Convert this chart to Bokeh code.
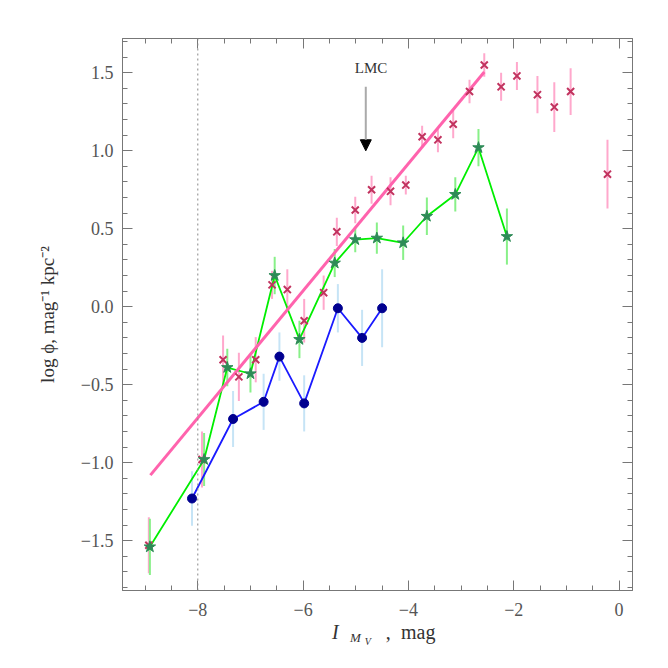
from bokeh.plotting import figure
from bokeh.layouts import column
from bokeh.models import (LinearAxis, SingleIntervalTicker, CustomJSTickFormatter,
                          Span, Label, Arrow, NormalHead, Range1d)
from bokeh.core.properties import value
from bokeh.embed import file_html
from bokeh.resources import INLINE

# ---------------- data ----------------
pink_x = [-8.93, -7.92, -7.52, -7.22, -6.90, -6.59, -6.30, -5.98, -5.61, -5.36, -5.01, -4.70,
          -4.34, -4.05, -3.74, -3.44, -3.15, -2.84, -2.56, -2.24, -1.94, -1.55, -1.23, -0.92, -0.22]
pink_y = [-1.53, -0.98, -0.34, -0.45, -0.34, 0.14, 0.11, -0.09, 0.09, 0.48, 0.62, 0.75,
          0.74, 0.78, 1.09, 1.07, 1.17, 1.38, 1.55, 1.41, 1.48, 1.36, 1.28, 1.38, 0.85]
pink_err = [0.18, 0.18, 0.155, 0.155, 0.145, 0.09, 0.13, 0.14, 0.11, 0.09, 0.085, 0.09,
            0.09, 0.06, 0.07, 0.08, 0.09, 0.075, 0.075, 0.09, 0.09, 0.12, 0.16, 0.15, 0.22]

green_x = [-8.91, -7.88, -7.44, -7.00, -6.54, -6.07, -5.40, -5.01, -4.60, -4.10, -3.65, -3.11, -2.67, -2.13]
green_y = [-1.54, -0.98, -0.39, -0.43, 0.20, -0.21, 0.28, 0.43, 0.44, 0.41, 0.58, 0.72, 1.02, 0.45]
green_err = [0.18, 0.17, 0.12, 0.12, 0.12, 0.12, 0.09, 0.08, 0.10, 0.11, 0.12, 0.11, 0.12, 0.18]

blue_x = [-8.11, -7.33, -6.75, -6.45, -5.98, -5.34, -4.88, -4.50]
blue_y = [-1.23, -0.72, -0.61, -0.32, -0.62, -0.01, -0.20, -0.01]
blue_err = [0.175, 0.18, 0.18, 0.155, 0.18, 0.155, 0.18, 0.25]

fit_x = [-8.90, -2.56]
fit_y = [-1.08, 1.505]

limit_mag = -8.0
lmc_mag = -4.81
lmc_arrow_top = 1.41
lmc_arrow_tip = 1.00

# x-axis title pieces: I_{M_V} , mag
xlab_text = ["I", "M", "V", ",", "mag"]
xlab_pos = [-5.45, -5.11, -4.83, -4.43, -4.14]

SERIF = "Liberation Serif"

x_range = Range1d(-9.43, 0.255)
p = figure(frame_width=510, frame_height=552, output_backend="svg", toolbar_location=None,
           x_range=x_range, y_range=Range1d(-1.82, 1.72),
           min_border_left=122, min_border_top=38, min_border_right=20, min_border_bottom=28,
           x_axis_location=None, y_axis_location=None)
p.background_fill_color = "white"
p.border_fill_color = "white"
p.outline_line_color = "#777777"
p.xgrid.visible = False
p.ygrid.visible = False

fmt_x = CustomJSTickFormatter(code="""
const s = Math.abs(tick).toFixed(0);
return (tick < -1e-9 ? "\u2212" : "") + s;""")
fmt_y = CustomJSTickFormatter(code="""
const s = Math.abs(tick).toFixed(1);
return (tick < -1e-9 ? "\u2212" : "") + s;""")
fmt_none = CustomJSTickFormatter(code="return '';")


def style_axis(ax):
    ax.axis_line_color = "#777777"
    ax.major_tick_line_color = "#777777"
    ax.minor_tick_line_color = "#777777"
    ax.major_tick_in = 10
    ax.major_tick_out = 0
    ax.minor_tick_in = 5
    ax.minor_tick_out = 0
    ax.major_label_text_font = SERIF
    ax.major_label_text_color = "#555555"
    ax.major_label_text_font_size = "18px"
    ax.axis_label_text_font = SERIF
    ax.axis_label_text_font_style = "normal"
    ax.axis_label_text_color = "#333333"
    ax.axis_label_text_font_size = "19px"


xb = LinearAxis(ticker=SingleIntervalTicker(interval=2, num_minor_ticks=4), formatter=fmt_x)
style_axis(xb)
xb.major_label_standoff = 12
p.add_layout(xb, "below")
xt = LinearAxis(ticker=SingleIntervalTicker(interval=2, num_minor_ticks=4), formatter=fmt_none)
style_axis(xt)
p.add_layout(xt, "above")

yl = LinearAxis(ticker=SingleIntervalTicker(interval=0.5, num_minor_ticks=5), formatter=fmt_y,
                axis_label="log ϕ, mag⁻¹ kpc⁻²")
style_axis(yl)
yl.major_label_standoff = 9
yl.axis_label_standoff = 20
p.add_layout(yl, "left")
yr = LinearAxis(ticker=SingleIntervalTicker(interval=0.5, num_minor_ticks=5), formatter=fmt_none)
style_axis(yr)
p.add_layout(yr, "right")

# dotted limit line
p.add_layout(Span(location=limit_mag, dimension="height", line_color="#888888",
                  line_dash="2 3", line_width=1))

# error bars
p.segment(x0=pink_x, y0=[y - e for y, e in zip(pink_y, pink_err)],
          x1=pink_x, y1=[y + e for y, e in zip(pink_y, pink_err)],
          line_color="#ffa8cc", line_width=2)
p.segment(x0=green_x, y0=[y - e for y, e in zip(green_y, green_err)],
          x1=green_x, y1=[y + e for y, e in zip(green_y, green_err)],
          line_color="#88f088", line_width=2)
p.segment(x0=blue_x, y0=[y - e for y, e in zip(blue_y, blue_err)],
          x1=blue_x, y1=[y + e for y, e in zip(blue_y, blue_err)],
          line_color="#c6e4f6", line_width=2)

# lines
p.line(green_x, green_y, line_color="#00ee00", line_width=1.8)
p.line(blue_x, blue_y, line_color="#1a1aff", line_width=1.8)
p.line(fit_x, fit_y, line_color="#ff63ad", line_width=3)

# markers
p.scatter(pink_x, pink_y, marker="x", size=10, line_color="#c2335f", line_width=2)
p.scatter(green_x, green_y, marker="star", size=12, fill_color="#2e8b57",
          line_color="#2e8b57", line_width=1)
p.scatter(blue_x, blue_y, marker="circle", size=9, fill_color="#000090", line_color="#000090")

# LMC annotation
p.add_layout(Arrow(x_start=lmc_mag, y_start=lmc_arrow_top, x_end=lmc_mag, y_end=lmc_arrow_tip,
                   line_color="#aaaaaa", line_width=2,
                   end=NormalHead(size=11, fill_color="black", line_color="black")))
p.add_layout(Label(x=lmc_mag + 0.1, y=1.53, text="LMC", text_font=SERIF, text_font_size="15px",
                   text_color="#333333", text_align="center", text_baseline="middle"))

# strip below the plot carrying the x-axis title (shares the x scale)
q = figure(frame_width=510, frame_height=40, output_backend="svg", toolbar_location=None,
           x_range=x_range, y_range=Range1d(0, 40),
           min_border_left=122, min_border_right=20, min_border_top=0, min_border_bottom=0,
           x_axis_location=None, y_axis_location=None)
q.outline_line_color = None
q.xgrid.visible = False
q.ygrid.visible = False
q.background_fill_color = "white"
q.border_fill_color = "white"
sizes = ["20px", "13px", "10px", "20px", "20px"]
styles = ["italic", "italic", "italic", "normal", "normal"]
bases = [27, 21, 17, 27, 27]
for t, xx, sz, st, b in zip(xlab_text, xlab_pos, sizes, styles, bases):
    q.text(x=[xx], y=[b], text=[t], text_font=value(SERIF), text_font_size=value(sz),
           text_font_style=value(st), text_color="#333333", text_align="left",
           text_baseline="alphabetic")

layout = column(p, q, spacing=0)
open("out.html", "w").write(file_html(layout, INLINE))
